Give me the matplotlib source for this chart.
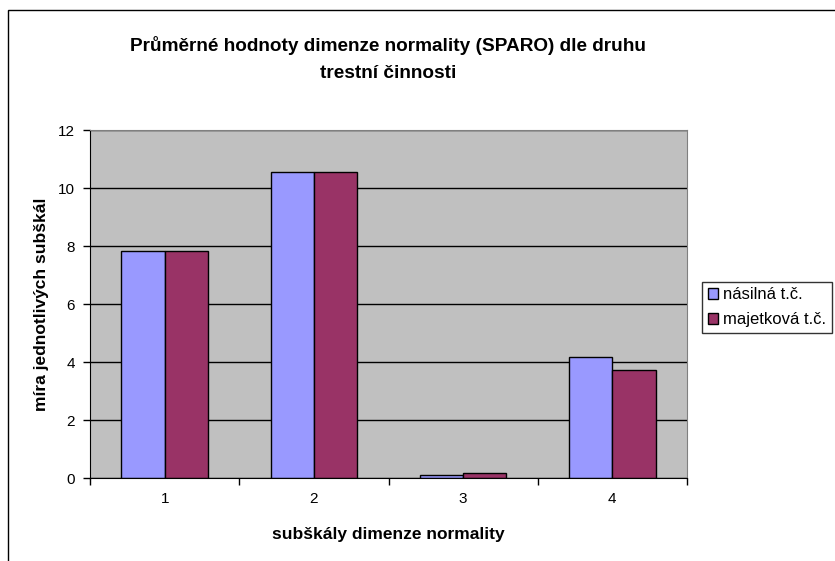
import matplotlib.pyplot as plt
import numpy as np
from matplotlib.patches import Rectangle

plt.rcParams['font.family'] = ['Liberation Sans', 'DejaVu Sans']

categories = ['1', '2', '3', '4']
nasilna = [7.83, 10.54, 0.11, 4.18]
majetkova = [7.83, 10.54, 0.18, 3.73]
series_names = ['násilná t.č.', 'majetková t.č.']

fig = plt.figure(figsize=(8.35, 5.61), dpi=100)
ax = fig.add_axes([90 / 835, 83 / 561, 597 / 835, 348 / 561])
ax.set_facecolor('#C0C0C0')

x = np.arange(len(categories))
w = 0.29
ax.bar(x - w / 2, nasilna, width=w, color='#9999FF', edgecolor='black', lw=1, label=series_names[0])
ax.bar(x + w / 2, majetkova, width=w, color='#993366', edgecolor='black', lw=1, label=series_names[1])

ax.set_xlim(-0.5, 3.5)
ax.set_ylim(0, 12)
ax.set_yticks(np.arange(0, 13, 2))
ax.yaxis.grid(True, color='black', lw=1)
ax.set_axisbelow(True)

ax.set_xticks(x)
ax.set_xticklabels(categories, fontsize=11)
ax.set_xticks(np.arange(-0.5, 4, 1), minor=True)
ax.tick_params(axis='x', which='major', length=0, pad=10)
ax.tick_params(axis='x', which='minor', length=5, width=1, direction='out')
ax.tick_params(axis='y', length=5, width=1, direction='out', labelsize=11, pad=6)

for s in ['top', 'right']:
    ax.spines[s].set_color('#808080')
for s in ['left', 'bottom']:
    ax.spines[s].set_color('black')

ax.set_xlabel('subškály dimenze normality', fontsize=12.5, fontweight='bold', labelpad=15)
ax.set_ylabel('míra jednotlivých subškál', fontsize=12.5, fontweight='bold', labelpad=6)

fig.text(388 / 835, 1 - 59 / 561, 'Průměrné hodnoty dimenze normality (SPARO) dle druhu\ntrestní činnosti',
         ha='center', va='center', fontsize=13.7, fontweight='bold', linespacing=1.75)

leg = ax.legend(loc='center left', bbox_to_anchor=(1.025, 0.49), frameon=True, fancybox=False,
                edgecolor='black', fontsize=12, handlelength=0.6, handleheight=0.6,
                handletextpad=0.3, borderpad=0.35, labelspacing=0.6, borderaxespad=0)
leg.get_frame().set_linewidth(1)

fig.patches.append(Rectangle((8 / 835, -0.1), 1.2, 1.1 - 10 / 561, transform=fig.transFigure,
                             fill=False, edgecolor='black', lw=1))

plt.savefig('out.png', dpi=100)
